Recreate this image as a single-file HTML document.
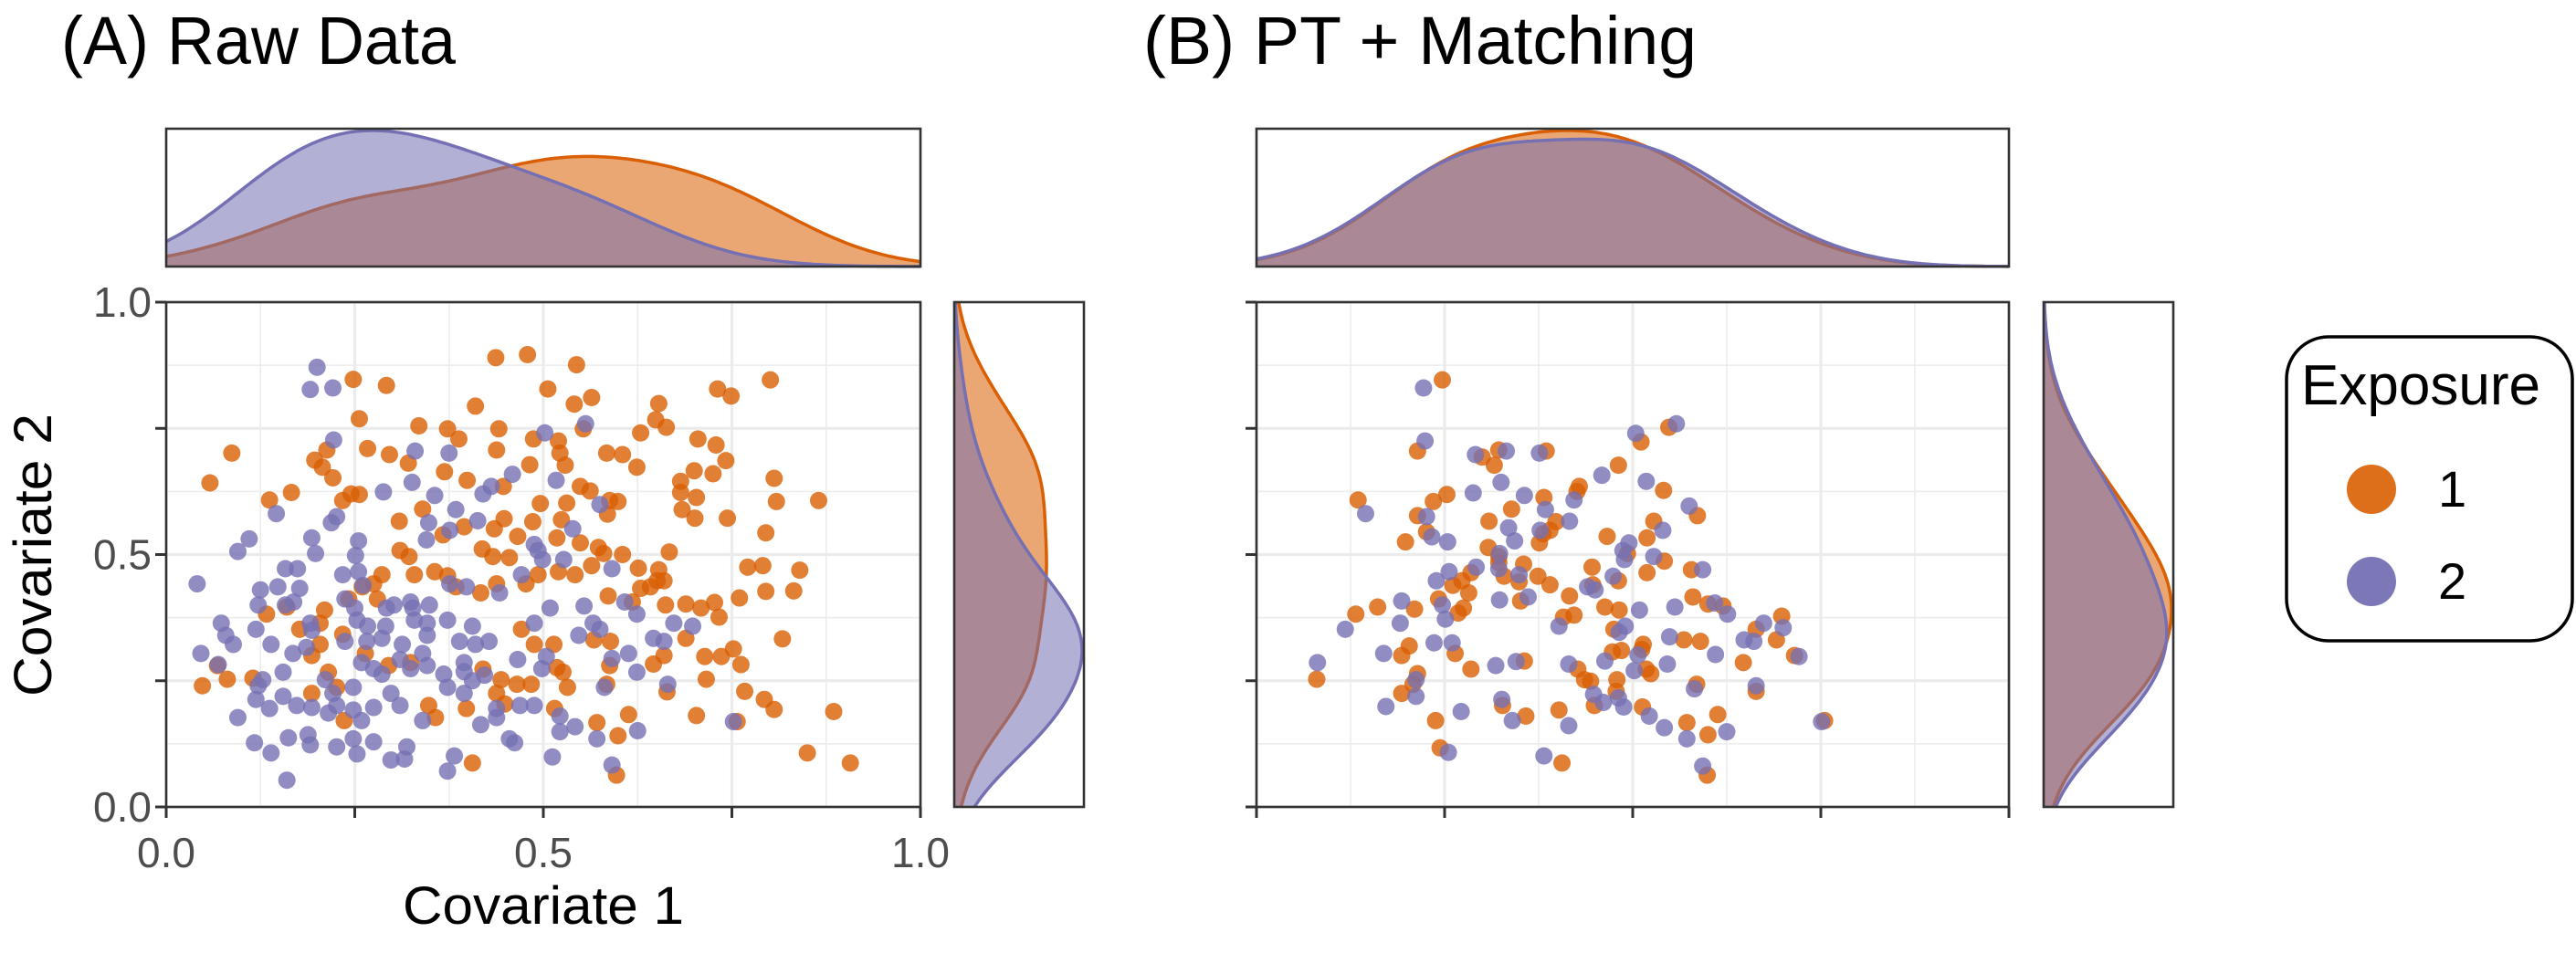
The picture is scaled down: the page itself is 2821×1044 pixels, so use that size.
<!DOCTYPE html>
<html><head><meta charset="utf-8"><style>
html,body{margin:0;padding:0;background:#fff;}
svg{display:block;}
text{font-family:"Liberation Sans",sans-serif;}
</style></head><body>
<svg id="fig" width="2821" height="1044" viewBox="0 0 2821 1044" xmlns="http://www.w3.org/2000/svg">
<text x="67" y="70" font-size="74" textLength="432" lengthAdjust="spacingAndGlyphs">(A) Raw Data</text>
<text x="1252" y="70" font-size="74" textLength="606" lengthAdjust="spacingAndGlyphs">(B) PT + Matching</text>
<g id="legend">
<rect x="2504" y="369" width="313" height="333" rx="46" ry="46" fill="#fff" stroke="#000" stroke-width="3.5"/>
<text x="2520" y="443" font-size="62" textLength="262" lengthAdjust="spacingAndGlyphs">Exposure</text>
<circle cx="2597" cy="536" r="27" fill="#D95F02" opacity="0.9"/>
<text x="2670" y="555" font-size="56">1</text>
<circle cx="2597" cy="637" r="27" fill="#7570B3" opacity="0.95"/>
<text x="2670" y="656" font-size="56">2</text>
</g>
</svg>
<script>
// Panel A data (Covariate 1, Covariate 2)
const aOrangeX=[.437,.479,.544,.248,.292,.506,.801,.731,.749,.564,.541,.41,.653,.256,.335,.087,.058,.373,.441,.388,.487,.52,.553,.649,.663,.629,.705,.729,.584,.605,.624,.742,.267,.296,.321,.197,.207,.213,.221,.369,.399,.438,.482,.529,.522,.137,.166,.234,.245,.256,.34,.309,.367,.395,.435,.448,.447,.496,.531,.549,.562,.588,.599,.585,.524,.486,.466,.518,.549,.573,.58,.605,.667,.682,.7,.725,.682,.703,.684,.701,.744,.806,.809,.865,.795,.771,.791,.84,.795,.832,.76,.817,.727,.709,.733,.689,.662,.651,.626,.653,.642,.66,.629,.586,.618,.564,.542,.52,.493,.477,.438,.417,.384,.373,.356,.329,.322,.31,.286,.275,.26,.242,.28,.21,.133,.16,.419,.433,.455,.471,.488,.514,.518,.526,.532,.484,.465,.444,.42,.438,.449,.398,.357,.348,.324,.295,.264,.234,.204,.193,.215,.193,.236,.226,.406,.597,.599,.571,.613,.588,.584,.567,.589,.515,.646,.66,.664,.689,.714,.736,.752,.762,.716,.767,.793,.806,.703,.757,.885,.85,.907,.048,.081,.068,.115,.204,.177];
const aOrangeY=[.89,.896,.876,.847,.835,.828,.846,.828,.814,.811,.798,.794,.799,.769,.755,.701,.642,.749,.749,.729,.729,.725,.749,.767,.752,.741,.729,.717,.701,.698,.673,.686,.71,.698,.681,.687,.673,.707,.652,.664,.647,.707,.678,.677,.701,.608,.623,.607,.62,.619,.59,.566,.539,.555,.551,.571,.635,.601,.602,.635,.626,.607,.605,.58,.569,.565,.536,.533,.523,.514,.502,.5,.505,.645,.666,.66,.623,.613,.589,.572,.572,.651,.605,.607,.543,.475,.478,.469,.427,.428,.414,.333,.405,.394,.376,.402,.4,.448,.473,.47,.436,.448,.433,.418,.406,.478,.46,.466,.46,.442,.442,.424,.436,.458,.466,.46,.496,.508,.46,.442,.436,.412,.412,.39,.382,.396,.511,.496,.494,.352,.322,.322,.276,.267,.237,.243,.243,.252,.273,.225,.204,.195,.177,.201,.286,.28,.304,.342,.322,.3,.267,.225,.171,.237,.087,.063,.141,.167,.183,.28,.243,.331,.328,.195,.283,.3,.228,.334,.298,.298,.313,.282,.253,.229,.213,.193,.181,.169,.189,.107,.087,.24,.253,.28,.255,.364,.352];
const aPurpleX=[.2,.191,.221,.222,.33,.375,.502,.556,.326,.288,.356,.384,.42,.431,.459,.517,.575,.146,.11,.095,.193,.198,.219,.226,.255,.251,.345,.348,.376,.413,.493,.499,.488,.539,.527,.591,.041,.046,.073,.079,.089,.069,.125,.122,.148,.158,.174,.177,.158,.169,.119,.139,.168,.186,.191,.193,.234,.255,.261,.237,.25,.253,.267,.291,.292,.302,.324,.327,.349,.373,.346,.329,.346,.313,.286,.266,.237,.259,.275,.286,.31,.324,.34,.346,.368,.373,.389,.406,.41,.428,.395,.395,.406,.395,.422,.376,.398,.442,.471,.488,.509,.554,.566,.575,.608,.624,.646,.66,.673,.698,.591,.613,.624,.547,.498,.504,.466,.469,.438,.438,.417,.455,.462,.488,.522,.542,.522,.571,.625,.591,.512,.382,.373,.298,.316,.319,.275,.253,.248,.226,.191,.188,.162,.139,.117,.16,.095,.119,.137,.155,.173,.193,.215,.226,.248,.259,.275,.298,.31,.34,.248,.221,.211,.155,.128,.122,.752,.665,.581];
const aPurpleY=[.871,.827,.83,.727,.705,.701,.741,.759,.643,.624,.617,.589,.62,.635,.659,.647,.599,.581,.531,.506,.533,.502,.563,.575,.527,.498,.529,.563,.548,.567,.508,.49,.52,.551,.49,.472,.442,.304,.364,.34,.322,.282,.43,.4,.436,.472,.472,.433,.4,.406,.352,.322,.304,.316,.364,.35,.46,.466,.439,.412,.394,.37,.358,.358,.394,.4,.406,.394,.4,.37,.364,.37,.34,.322,.334,.328,.328,.286,.274,.263,.292,.274,.304,.28,.263,.237,.328,.358,.322,.328,.286,.268,.25,.225,.261,.442,.436,.424,.46,.364,.394,.398,.364,.352,.406,.382,.334,.328,.364,.358,.294,.304,.267,.34,.274,.298,.292,.201,.195,.177,.163,.135,.127,.201,.18,.159,.149,.135,.151,.083,.099,.101,.071,.093,.095,.119,.129,.105,.135,.119,.123,.143,.137,.107,.127,.053,.177,.213,.195,.219,.201,.197,.186,.201,.192,.171,.197,.225,.201,.171,.237,.225,.252,.267,.252,.24,.169,.243,.237];
// Panel B data (after PT + matching)
const bOrangeX=[.247,.214,.322,.385,.316,.3,.481,.511,.548,.135,.235,.253,.214,.226,.198,.309,.339,.382,.429,.426,.541,.528,.586,.519,.466,.398,.381,.376,.39,.308,.322,.322,.355,.329,.349,.374,.39,.285,.273,.261,.282,.275,.268,.242,.21,.161,.132,.203,.193,.264,.285,.214,.208,.193,.08,.238,.244,.327,.358,.356,.351,.402,.406,.416,.422,.408,.427,.444,.449,.447,.446,.481,.493,.519,.542,.463,.482,.475,.473,.485,.514,.512,.518,.524,.479,.478,.513,.578,.58,.6,.62,.568,.59,.664,.698,.691,.647,.715,.664,.585,.613,.572,.6,.599,.755,.436];
const bOrangeY=[.846,.705,.707,.705,.677,.693,.677,.723,.752,.608,.605,.619,.577,.545,.525,.566,.59,.613,.635,.625,.627,.566,.577,.533,.536,.565,.541,.523,.548,.514,.496,.484,.481,.457,.446,.457,.44,.464,.448,.439,.424,.394,.384,.412,.392,.396,.382,.319,.3,.304,.273,.264,.243,.225,.253,.171,.117,.201,.18,.289,.408,.192,.087,.418,.38,.376,.273,.249,.201,.44,.475,.448,.502,.464,.487,.396,.39,.352,.307,.31,.322,.312,.273,.264,.252,.229,.198,.47,.416,.402,.398,.331,.328,.352,.378,.331,.286,.3,.229,.243,.183,.167,.143,.063,.171,.252];
const bPurpleX=[.222,.224,.291,.332,.376,.504,.558,.145,.288,.325,.356,.384,.422,.459,.518,.575,.416,.335,.343,.377,.226,.233,.254,.292,.323,.322,.349,.256,.239,.247,.251,.193,.191,.118,.081,.169,.236,.26,.323,.361,.318,.345,.212,.212,.172,.272,.326,.34,.255,.382,.415,.415,.448,.461,.488,.481,.463,.402,.45,.44,.474,.487,.495,.489,.528,.54,.49,.482,.509,.507,.502,.522,.542,.572,.593,.625,.582,.546,.549,.556,.593,.609,.626,.61,.648,.661,.674,.7,.721,.664,.751];
const bPurpleY=[.83,.725,.698,.705,.701,.74,.759,.581,.622,.643,.617,.589,.608,.657,.645,.596,.566,.553,.527,.548,.575,.535,.525,.475,.502,.472,.46,.466,.448,.4,.372,.408,.364,.352,.286,.304,.325,.325,.41,.416,.28,.288,.252,.219,.199,.189,.213,.171,.108,.101,.161,.283,.223,.207,.198,.216,.289,.358,.43,.436,.457,.508,.523,.49,.496,.548,.358,.346,.39,.301,.27,.18,.157,.135,.081,.149,.234,.283,.337,.396,.47,.404,.382,.302,.331,.328,.364,.355,.298,.24,.169];
const axisTicks=[0,0.25,0.5,0.75,1];
const minorGrid=[0.125,0.375,0.625,0.875];
const tickLabels=["0.0","0.5","1.0"];
const tickLabelVals=[0,0.5,1];

const NS="http://www.w3.org/2000/svg";
const svg=document.getElementById('fig');
const ORANGE="#D95F02", PURPLE="#7570B3";
function mk(tag,attrs,parent){const e=document.createElementNS(NS,tag);for(const k in attrs)e.setAttribute(k,attrs[k]);(parent||svg).appendChild(e);return e;}

function kde(vals,grid,bw){return grid.map(g=>{let s=0;for(const v of vals){const u=(g-v)/bw;s+=Math.exp(-0.5*u*u);}return s/(vals.length*bw*Math.sqrt(2*Math.PI));});}
const grid=[];for(let i=0;i<=200;i++)grid.push(i/200);

function panel(P){
  const {x0,x1,y0,y1,ty0,ty1,rx0,rx1,labels,name,oX,oY,pX,pY}=P;
  const sx=v=>x0+v*(x1-x0), sy=v=>y1-v*(y1-y0);
  const g=mk('g',{});
  
  
  minorGrid.forEach(v=>{
    const l1=mk('line',{x1:sx(v),x2:sx(v),y1:y0,y2:y1,stroke:'#ececec','stroke-width':1.6},g);
    
    
    const l2=mk('line',{x1:x0,x2:x1,y1:sy(v),y2:sy(v),stroke:'#ececec','stroke-width':1.6},g);
    
    
  });
  axisTicks.forEach(v=>{
    const l1=mk('line',{x1:sx(v),x2:sx(v),y1:y0,y2:y1,stroke:'#ebebeb','stroke-width':3.2},g);
    
    
    const l2=mk('line',{x1:x0,x2:x1,y1:sy(v),y2:sy(v),stroke:'#ebebeb','stroke-width':3.2},g);
    
    
  });
  oX.forEach((v,i)=>{const c=mk('circle',{cx:sx(v),cy:sy(oY[i]),r:9.5,fill:ORANGE,'fill-opacity':0.8},g);
    
    });
  pX.forEach((v,i)=>{const c=mk('circle',{cx:sx(v),cy:sy(pY[i]),r:9.5,fill:PURPLE,'fill-opacity':0.8},g);
    
    });
  const b=mk('rect',{x:x0,y:y0,width:x1-x0,height:y1-y0,fill:'none',stroke:'#333','stroke-width':2.6},g);
  
  
  axisTicks.forEach(v=>{
    const t1=mk('line',{x1:x0-12,x2:x0,y1:sy(v),y2:sy(v),stroke:'#333','stroke-width':3},g);
    
    
    const t2=mk('line',{x1:sx(v),x2:sx(v),y1:y1,y2:y1+12,stroke:'#333','stroke-width':3},g);
    
    
  });
  if(labels){
    tickLabelVals.forEach((v,i)=>{
      const t=mk('text',{x:x0-16,y:sy(v)+16,'font-size':46,'text-anchor':'end',fill:'#4d4d4d'},g);
      t.textContent=tickLabels[i];
      
      
      const u=mk('text',{x:sx(v),y:y1+66,'font-size':46,'text-anchor':'middle',fill:'#4d4d4d'},g);
      u.textContent=tickLabels[i];
      
      
    });
  }
  const bw=0.09;
  const dox=kde(oX,grid,bw), dpx=kde(pX,grid,bw);
  const mx=Math.max(...dox,...dpx);
  const tg=mk('g',{});
  
  
  const th=ty1-ty0-2;
  [[dox,ORANGE,'density-exposure-1'],[dpx,PURPLE,'density-exposure-2']].forEach(([d,col,nm])=>{
    let p='M'+sx(0)+','+ty1;
    d.forEach((v,i)=>{p+=' L'+sx(grid[i]).toFixed(1)+','+(ty1-v/mx*th).toFixed(1);});
    const line=p.replace('M'+sx(0)+','+ty1+' L','M');
    p+=' L'+sx(1)+','+ty1+' Z';
    const a=mk('path',{d:p,fill:col,'fill-opacity':0.55,stroke:'none'},tg);
    
    
    const l=mk('path',{d:line,fill:'none',stroke:col,'stroke-width':3.5},tg);
    
    
  });
  const tb=mk('rect',{x:x0,y:ty0,width:x1-x0,height:ty1-ty0,fill:'none',stroke:'#333','stroke-width':2.6},tg);
  
  
  const doy=kde(oY,grid,bw), dpy=kde(pY,grid,bw);
  const my=Math.max(...doy,...dpy);
  const rg=mk('g',{});
  
  
  const rw=rx1-rx0-2;
  [[doy,ORANGE,'density-exposure-1'],[dpy,PURPLE,'density-exposure-2']].forEach(([d,col,nm])=>{
    let p='M'+rx0+','+sy(0);
    d.forEach((v,i)=>{p+=' L'+(rx0+v/my*rw).toFixed(1)+','+sy(grid[i]).toFixed(1);});
    const line=p.replace('M'+rx0+','+sy(0)+' L','M');
    p+=' L'+rx0+','+sy(1)+' Z';
    const a=mk('path',{d:p,fill:col,'fill-opacity':0.55,stroke:'none'},rg);
    
    
    const l=mk('path',{d:line,fill:'none',stroke:col,'stroke-width':3.5},rg);
    
    
  });
  const rb=mk('rect',{x:rx0,y:y0,width:rx1-rx0,height:y1-y0,fill:'none',stroke:'#333','stroke-width':2.6},rg);
  
  
}
panel({x0:182,x1:1008,y0:331,y1:884,ty0:141,ty1:292,rx0:1045,rx1:1187,labels:true,name:'panel-a',oX:aOrangeX,oY:aOrangeY,pX:aPurpleX,pY:aPurpleY});
panel({x0:1376,x1:2200,y0:331,y1:884,ty0:141,ty1:292,rx0:2238,rx1:2380,labels:false,name:'panel-b',oX:bOrangeX,oY:bOrangeY,pX:bPurpleX,pY:bPurpleY});

const xt=mk('text',{x:595,y:1012,'font-size':58,'text-anchor':'middle',textLength:308,lengthAdjust:'spacingAndGlyphs'});
xt.textContent='Covariate 1';


const yt=mk('text',{x:0,y:0,'font-size':58,'text-anchor':'middle',textLength:310,lengthAdjust:'spacingAndGlyphs',transform:'translate(56,608) rotate(-90)'});
yt.textContent='Covariate 2';


svg.appendChild(document.getElementById('legend'));
</script>
</body></html>
